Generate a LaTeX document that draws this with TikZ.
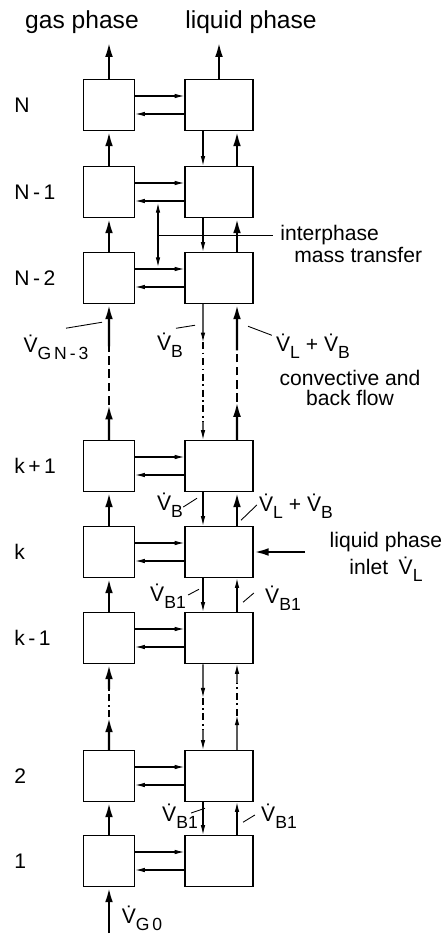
\documentclass[tikz,border=0pt]{standalone}
\usepackage{fontspec}
\setmainfont{Liberation Sans}
\usepackage{tikz}
\usetikzlibrary{arrows.meta, positioning, calc}
\newcommand{\Vd}[1]{\.{V}\raisebox{-4pt}{\fontsize{10}{10}\selectfont #1}}

\begin{document}
\begin{tikzpicture}[
      x=0.02cm, y=-0.02cm,
      gcell/.style ={draw,line width=0.85pt,minimum width=1.02cm,
                     minimum height=1.02cm,inner sep=0pt},
      lcell/.style ={gcell,minimum width=1.36cm},
      fl/.style    ={-{Latex[length=5.5pt,width=2.6pt]},line width=0.6pt},
      flt/.style   ={-{Latex[length=8.5pt,width=4.4pt]},line width=1.4pt},
      brk/.style   ={line width=1.4pt,dash pattern=on 5pt off 2.5pt},
      brkd/.style  ={dash pattern=on 4pt off 2pt on 1pt off 2pt},
      ldr/.style   ={line width=0.5pt},
      lbl/.style   ={font=\fontsize{12}{14}\selectfont,inner sep=0pt},
      head/.style  ={font=\fontsize{14}{16}\selectfont,inner sep=0pt}]
      \useasboundingbox (0,0) rectangle (445,940);
      % headers
      \node[head] (hgas) at (82,22)  {gas phase};
      \node[head] (hliq) at (251,22) {liquid phase};
      % stages
      \foreach \s/\y/\t in {N/105/N, Nm1/192/N\,-\,1, Nm2/278/N\,-\,2,
                            Kp1/466/k\,+\,1, K/552/k, Km1/638/k\,-\,1,
                            2/776/2, 1/861/1}{
        \node[gcell] (g\s) at (109,\y) {};
        \node[lcell] (l\s) at (219,\y) {};
        \node[lbl,anchor=west] (t\s) at (14,\y) {\t};
        \draw[fl] ($(g\s.east)+(0,-9)$) -- ($(l\s.west)+(0,-9)$);
        \draw[fl] ($(l\s.west)+(0,9)$)  -- ($(g\s.east)+(0,9)$);
      }
      % outlets
      \coordinate (gout) at (109,42);
      \coordinate (lout) at (219,42);
      \draw[flt] (gN) -- (gout);
      \draw[flt] (lN) -- (lout);
      % flows between neighbouring stages
      \foreach \a/\b/\u in {N/Nm1/flt, Nm1/Nm2/flt, Kp1/K/flt, K/Km1/fl, 2/1/fl}{
        \draw[flt] (g\b) -- (g\a);
        \draw[fl] ($(l\a.south)+(-16,0)$) -- ($(l\b.north)+(-16,0)$);
        \draw[\u] ($(l\b.north)+(18,0)$) -- ($(l\a.south)+(18,0)$);
      }
      % broken runs N-2 ... k+1
      \draw[flt] (gKp1.north) -- ($(gKp1.north)!0.26!(gNm2.south)$);
      \draw[brk] ($(gKp1.north)!0.26!(gNm2.south)$) -- ($(gKp1.north)!0.69!(gNm2.south)$);
      \draw[flt] ($(gKp1.north)!0.69!(gNm2.south)$) -- (gNm2.south);
      \draw[flt] ($(lKp1.north)+(18,0)$) -- ($($(lKp1.north)+(18,0)$)!0.28!($(lNm2.south)+(18,0)$)$);
      \draw[brk] ($($(lKp1.north)+(18,0)$)!0.28!($(lNm2.south)+(18,0)$)$) -- ($($(lKp1.north)+(18,0)$)!0.66!($(lNm2.south)+(18,0)$)$);
      \draw[flt] ($($(lKp1.north)+(18,0)$)!0.66!($(lNm2.south)+(18,0)$)$) -- ($(lNm2.south)+(18,0)$);
      \draw[fl] ($(lNm2.south)+(-16,0)$) -- ($($(lNm2.south)+(-16,0)$)!0.28!($(lKp1.north)+(-16,0)$)$);
      \draw[brkd,line width=0.6pt] ($($(lNm2.south)+(-16,0)$)!0.28!($(lKp1.north)+(-16,0)$)$) -- ($($(lNm2.south)+(-16,0)$)!0.87!($(lKp1.north)+(-16,0)$)$);
      \draw[fl] ($($(lNm2.south)+(-16,0)$)!0.87!($(lKp1.north)+(-16,0)$)$) -- ($(lKp1.north)+(-16,0)$);
      % broken runs k-1 ... 2
      \draw[flt] (g2.north) -- ($(g2.north)!0.38!(gKm1.south)$);
      \draw[brkd,line width=1.4pt] ($(g2.north)!0.38!(gKm1.south)$) -- ($(g2.north)!0.71!(gKm1.south)$);
      \draw[flt] ($(g2.north)!0.71!(gKm1.south)$) -- (gKm1.south);
      \draw[fl] ($(lKm1.south)+(-16,0)$) -- ($($(lKm1.south)+(-16,0)$)!0.39!($(l2.north)+(-16,0)$)$);
      \draw[brkd,line width=0.6pt] ($($(lKm1.south)+(-16,0)$)!0.39!($(l2.north)+(-16,0)$)$) -- ($($(lKm1.south)+(-16,0)$)!0.77!($(l2.north)+(-16,0)$)$);
      \draw[fl] ($($(lKm1.south)+(-16,0)$)!0.77!($(l2.north)+(-16,0)$)$) -- ($(l2.north)+(-16,0)$);
      \draw[fl] ($(l2.north)+(18,0)$) -- ($($(l2.north)+(18,0)$)!0.40!($(lKm1.south)+(18,0)$)$);
      \draw[brkd,line width=0.6pt] ($($(l2.north)+(18,0)$)!0.40!($(lKm1.south)+(18,0)$)$) -- ($($(l2.north)+(18,0)$)!0.78!($(lKm1.south)+(18,0)$)$);
      \draw[fl] ($($(l2.north)+(18,0)$)!0.78!($(lKm1.south)+(18,0)$)$) -- ($(lKm1.south)+(18,0)$);
      % interphase mass transfer
      \coordinate (mtop) at (158,203);
      \coordinate (mbot) at (158,267);
      \coordinate (mmid) at (158,235);
      \node[lbl,anchor=west,align=left,font=\fontsize{12}{10}\selectfont] (mtr) at (280,244)
        {interphase\\\hspace*{8pt}mass transfer};
      \draw[{Latex[length=5.5pt,width=2.6pt]}-{Latex[length=5.5pt,width=2.6pt]},line width=0.6pt] (mtop) -- (mbot);
      \draw[ldr] (mmid) -- ($(mmid -| mtr.west)+(-7,0)$);
      % flow labels
      \node[lbl] (vgn) at (56,347) {\Vd{G\,N\,-\,3}};
      \draw[ldr] ($(vgn.north)+(10,-6)$) -- ($(gNm2.south)+(-7,18)$);
      \node[lbl] (vba) at (170,345) {\Vd{B}};
      \draw[ldr] ($(vba.north)+(6,-4)$) -- ($(lNm2.south)+(-24,21)$);
      \node[lbl] (vlba) at (313,346) {\Vd{L} + \Vd{B}};
      \draw[ldr] ($(vlba.north west)+(-4,2)$) -- ($(lNm2.south)+(29,22)$);
      \node[lbl,align=center,font=\fontsize{12}{11.5}\selectfont] (conv) at (350,388)
        {convective and\\back flow};
      \node[lbl] (vbb) at (170,505) {\Vd{B}};
      \draw[ldr] ($(vbb.east)+(0,2)$) -- ($(lKp1.south)+(-22,6)$);
      \node[lbl] (vlbb) at (296,506) {\Vd{L} + \Vd{B}};
      \draw[ldr] ($(vlbb.west)+(-2,-1)$) -- ($(lKp1.south)+(22,28)$);
      \node[lbl] (vb1a) at (168,596) {\Vd{B1}};
      \draw[ldr] ($(vb1a.east)+(2,-1)$) -- ($(lK.south)+(-20,11)$);
      \node[lbl] (vb1b) at (283,598) {\Vd{B1}};
      \draw[ldr] ($(vb1b.west)+(-11,-5)$) -- ($(lK.south)+(24,24)$);
      \node[lbl] (vb1c) at (180,816) {\Vd{B1}};
      \draw[ldr] ($(vb1c.east)+(-7,-3)$) -- ($(l2.south)+(-14,6)$);
      \node[lbl] (vb1d) at (279,816) {\Vd{B1}};
      \draw[ldr] ($(vb1d.west)+(-6,-1)$) -- ($(l2.south)+(24,20)$);
      % inlets
      \coordinate (gin) at (109,933);
      \draw[flt] (gin) -- (g1);
      \node[lbl] (vg0) at (142,918) {\Vd{G\,0}};
      \coordinate (lin) at (305,552);
      \draw[flt] (lin) -- (lK);
      \node[lbl,align=center,font=\fontsize{12}{15}\selectfont] (linl) at (386,557)
        {liquid phase\\inlet\enspace\Vd{L}};
\end{tikzpicture}
\end{document}
